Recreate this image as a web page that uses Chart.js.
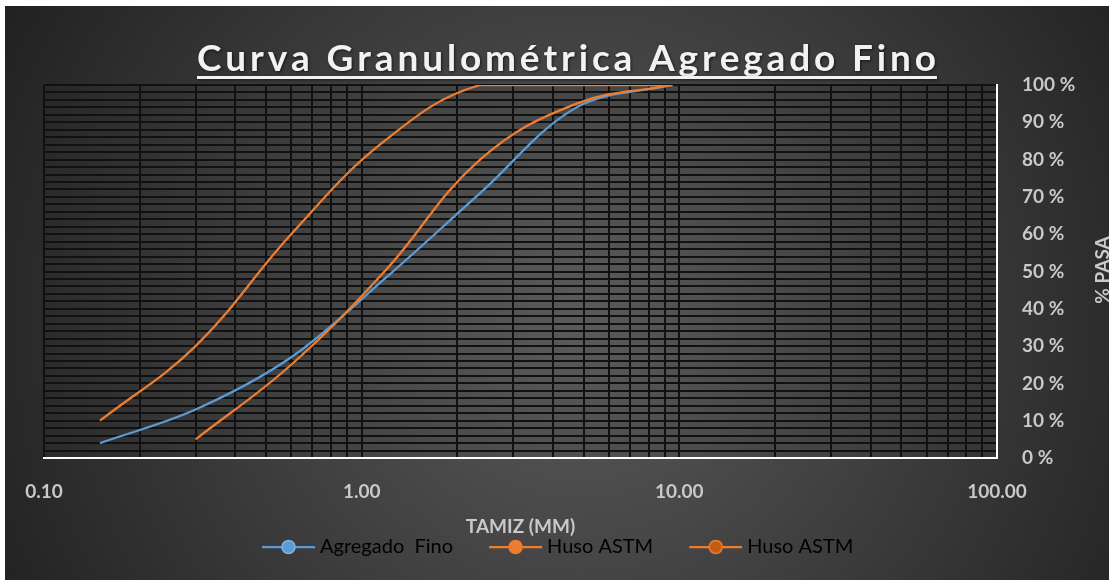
<!DOCTYPE html>
<html>
<head>
<meta charset="utf-8">
<title>Curva Granulométrica Agregado Fino</title>
<script src="https://cdn.jsdelivr.net/npm/chart.js@4.4.1/dist/chart.umd.min.js"></script>
<style>
  html, body { margin: 0; padding: 0; background: #fff; }
  #wrap { width: 1113px; height: 583px; position: relative; }
</style>
</head>
<body>
<div id="wrap"><canvas id="curva"></canvas></div>
<script>
// tamices (mm) y % que pasa
const tamiz = [0.15, 0.3, 0.6, 1.18, 2.36, 4.75, 9.5];
const agregadoFino = [4, 13, 27, 48, 71, 94, 100];
const tamizHusoInf = [0.3, 0.6, 1.18, 2.36, 4.75, 9.5];
const husoInferior = [5, 25, 50, 80, 95, 100];
const husoSuperior = [10, 30, 60, 85, 100, 100, 100];

const xTickValues = [0.1, 1, 10, 100];
const xTickLabels = ['0.10', '1.00', '10.00', '100.00'];
const yTickLabels = ['0 %', '10 %', '20 %', '30 %', '40 %', '50 %', '60 %', '70 %', '80 %', '90 %', '100 %'];
const nombres = ['Agregado  Fino', 'Huso ASTM', 'Huso ASTM'];

const titulo = 'Curva Granulométrica Agregado Fino';
const fuente = 'Lato, "DejaVu Sans", sans-serif';
const AZUL = '#5B9BD5';
const NARANJA = '#ED7D31';

// icono de leyenda: linea con circulo (con espacio transparente a la izquierda)
function iconoLeyenda(linea, relleno, borde) {
  const c = document.createElement('canvas');
  c.width = 92; c.height = 20;
  const g = c.getContext('2d');
  g.strokeStyle = linea; g.lineWidth = 2.25;
  g.beginPath(); g.moveTo(39, 10); g.lineTo(92, 10); g.stroke();
  g.beginPath(); g.arc(65.5, 10, 6.5, 0, Math.PI * 2);
  g.fillStyle = relleno; g.fill();
  g.strokeStyle = borde; g.lineWidth = 1.5; g.stroke();
  return c;
}
const iconos = [
  iconoLeyenda(AZUL, AZUL, '#7fb2e0'),
  iconoLeyenda(NARANJA, NARANJA, NARANJA),
  iconoLeyenda(NARANJA, '#C55A11', NARANJA)
];

const fondo = {
  id: 'fondo',
  beforeDraw(chart) {
    const ctx = chart.ctx;
    ctx.save();
    ctx.fillStyle = '#fff';
    ctx.fillRect(0, 0, chart.width, chart.height);
    const g = ctx.createRadialGradient(580, 320, 10, 580, 320, 680);
    g.addColorStop(0, '#5a5a5a');
    g.addColorStop(1, '#1f1f1f');
    ctx.fillStyle = g;
    ctx.fillRect(5, 6, 1104, 574);
    ctx.restore();
  },
  afterLayout(chart) {
    // leyenda alineada como en el original
    chart.legend.left = 226;
    chart.legend.right = chart.width;
  },
  afterDraw(chart) {
    const ctx = chart.ctx;
    ctx.save();
    // titulo subrayado
    ctx.font = 'bold 37px ' + fuente;
    ctx.fillStyle = '#f2f2f2';
    ctx.textBaseline = 'alphabetic';
    ctx.textAlign = 'left';
    ctx.shadowColor = 'rgba(0,0,0,0.6)';
    ctx.shadowBlur = 3;
    ctx.shadowOffsetX = 1;
    ctx.shadowOffsetY = 1;
    const letras = [...titulo];
    const anchos = letras.map(l => ctx.measureText(l).width);
    const total = anchos.reduce((a, b) => a + b, 0);
    const esp = (739 - total) / (letras.length - 1);
    let x = 197;
    letras.forEach((l, i) => { ctx.fillText(l, x, 71); x += anchos[i] + esp; });
    ctx.fillRect(197, 76, 740, 3);
    // titulo del eje derecho
    ctx.shadowColor = 'transparent';
    ctx.font = 'bold 19px ' + fuente;
    ctx.fillStyle = '#c9c9c9';
    ctx.translate(1103, 270);
    ctx.rotate(-Math.PI / 2);
    ctx.textAlign = 'center';
    ctx.textBaseline = 'middle';
    ctx.fillText('% PASA', 0, 0);
    ctx.restore();
  }
};

const ctx = document.getElementById('curva').getContext('2d');

new Chart(ctx, {
  type: 'line',
  data: {
    datasets: [
      {
        label: nombres[0],
        data: tamiz.map((t, i) => ({ x: t, y: agregadoFino[i] })),
        borderColor: AZUL,
        tension: 0.35,
        order: 3
      },
      {
        label: nombres[1],
        data: tamizHusoInf.map((t, i) => ({ x: t, y: husoInferior[i] })),
        borderColor: NARANJA,
        order: 2
      },
      {
        label: nombres[2],
        data: tamiz.map((t, i) => ({ x: t, y: husoSuperior[i] })),
        borderColor: NARANJA,
        order: 1
      }
    ]
  },
  options: {
    responsive: true,
    maintainAspectRatio: false,
    animation: false,
    elements: {
      line: { borderWidth: 2.25, tension: 0.4, fill: false },
      point: { radius: 0, hoverRadius: 0 }
    },
    layout: { padding: { left: 44, top: 85, right: 0, bottom: 16 } },
    plugins: {
      tooltip: { enabled: false },
      title: { display: false },
      legend: {
        display: true,
        position: 'bottom',
        align: 'start',
        labels: {
          usePointStyle: true,
          pointStyleWidth: 82,
          padding: 2,
          color: '#d9d9d9',
          font: { family: fuente, size: 20 },
          generateLabels: (chart) => chart.data.datasets.map((ds, i) => ({
            text: ds.label,
            pointStyle: iconos[i],
            fillStyle: 'transparent',
            strokeStyle: 'transparent',
            lineWidth: 0,
            hidden: false,
            datasetIndex: i
          }))
        }
      }
    },
    scales: {
      x: {
        type: 'logarithmic',
        position: 'bottom',
        min: 0.1,
        max: 100,
        afterBuildTicks: (scale) => {
          const ticks = [];
          [0.1, 1, 10].forEach(d => {
            for (let k = 1; k <= 9; k++) ticks.push({ value: k === 1 ? d : +(d * k).toFixed(2) });
          });
          ticks.push({ value: 100 });
          scale.ticks = ticks;
        },
        afterFit: (scale) => { scale.height = 77; },
        grid: { color: '#111', lineWidth: 2, drawTicks: false },
        border: { color: '#ffffff', width: 2 },
        ticks: {
          autoSkip: false,
          maxRotation: 0,
          padding: 22,
          color: '#c9c9c9',
          font: { family: fuente, size: 19, weight: 'bold' },
          callback: (v) => {
            const i = xTickValues.indexOf(v);
            return i >= 0 ? xTickLabels[i] : '';
          }
        },
        title: {
          display: true,
          text: 'TAMIZ (MM)',
          color: '#c9c9c9',
          font: { family: fuente, size: 19, weight: 'bold', lineHeight: 0.9 },
          padding: { top: 0, bottom: 0 }
        }
      },
      y: {
        position: 'right',
        min: 0,
        max: 100,
        afterFit: (scale) => { scale.width = 116; },
        grid: { color: '#111', lineWidth: 2, drawTicks: false },
        border: { color: '#ffffff', width: 2 },
        ticks: {
          stepSize: 2,
          autoSkip: false,
          padding: 25,
          color: '#c9c9c9',
          font: { family: fuente, size: 19, weight: 'bold' },
          callback: (v) => (v % 10 === 0 ? yTickLabels[v / 10] : '')
        }
      }
    }
  },
  plugins: [fondo]
});
</script>
</body>
</html>
